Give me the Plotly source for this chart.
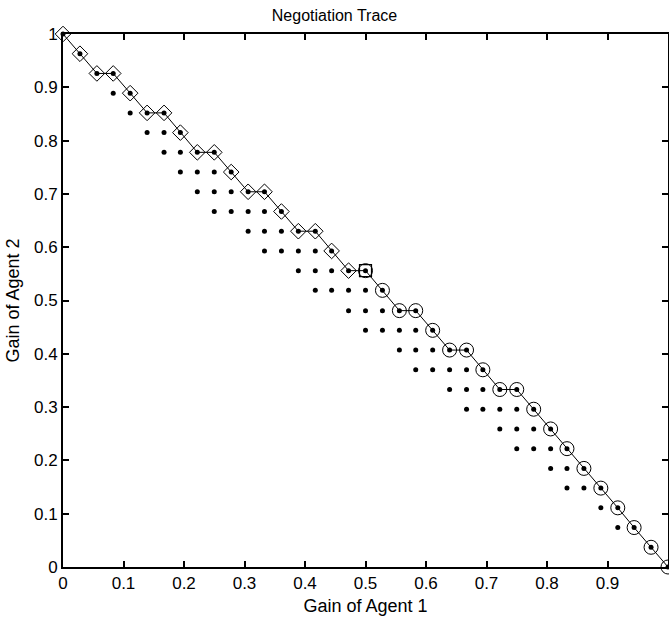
import plotly.graph_objects as go

# Agent 1 offers (diamonds)
agent1_x = [0, 0.028, 0.056, 0.083, 0.111, 0.139, 0.167, 0.194, 0.222, 0.25,
            0.278, 0.306, 0.333, 0.361, 0.389, 0.417, 0.444, 0.472]
agent1_y = [1, 0.963, 0.926, 0.926, 0.889, 0.852, 0.852, 0.815, 0.778, 0.778,
            0.741, 0.704, 0.704, 0.667, 0.630, 0.630, 0.593, 0.556]

# Agreement (square)
agree_x = [0.5]
agree_y = [0.556]

# Agent 2 offers (circles)
agent2_x = [0.528, 0.556, 0.583, 0.611, 0.639, 0.667, 0.694, 0.722, 0.75,
            0.778, 0.806, 0.833, 0.861, 0.889, 0.917, 0.944, 0.972, 1]
agent2_y = [0.519, 0.481, 0.481, 0.444, 0.407, 0.407, 0.370, 0.333, 0.333,
            0.296, 0.259, 0.222, 0.185, 0.148, 0.111, 0.074, 0.037, 0]

# Other feasible outcomes (small dots)
dots_x = [0.083,
          0.111,
          0.139, 0.167,
          0.167, 0.194,
          0.194, 0.222, 0.25,
          0.222, 0.25, 0.278,
          0.25, 0.278, 0.306, 0.333,
          0.306, 0.333, 0.361,
          0.333, 0.361, 0.389, 0.417,
          0.389, 0.417, 0.444,
          0.417, 0.444, 0.472, 0.5,
          0.472, 0.5, 0.528,
          0.5, 0.528, 0.556, 0.583,
          0.556, 0.583, 0.611,
          0.583, 0.611, 0.639, 0.667,
          0.639, 0.667, 0.694,
          0.667, 0.694, 0.722, 0.75,
          0.722, 0.75, 0.778,
          0.75, 0.778, 0.806,
          0.806, 0.833,
          0.833, 0.861,
          0.889,
          0.917]
dots_y = [0.889,
          0.852,
          0.815, 0.815,
          0.778, 0.778,
          0.741, 0.741, 0.741,
          0.704, 0.704, 0.704,
          0.667, 0.667, 0.667, 0.667,
          0.630, 0.630, 0.630,
          0.593, 0.593, 0.593, 0.593,
          0.556, 0.556, 0.556,
          0.519, 0.519, 0.519, 0.519,
          0.481, 0.481, 0.481,
          0.444, 0.444, 0.444, 0.444,
          0.407, 0.407, 0.407,
          0.370, 0.370, 0.370, 0.370,
          0.333, 0.333, 0.333,
          0.296, 0.296, 0.296, 0.296,
          0.259, 0.259, 0.259,
          0.222, 0.222, 0.222,
          0.185, 0.185,
          0.148, 0.148,
          0.111,
          0.074]

trace_x = agent1_x + agree_x + agent2_x
trace_y = agent1_y + agree_y + agent2_y

FONT = "Liberation Sans, Arial, Helvetica, sans-serif"

fig = go.Figure()

fig.add_trace(go.Scatter(
    x=dots_x, y=dots_y, mode="markers",
    marker=dict(symbol="circle", size=5, color="black", line=dict(width=0)),
    cliponaxis=False, showlegend=False, hoverinfo="x+y"))

fig.add_trace(go.Scatter(
    x=trace_x, y=trace_y, mode="lines+markers",
    line=dict(color="black", width=1),
    marker=dict(symbol="circle", size=5, color="black", line=dict(width=0)),
    cliponaxis=False, showlegend=False))

fig.add_trace(go.Scatter(
    x=agent1_x, y=agent1_y, mode="markers",
    marker=dict(symbol="diamond-open", size=12, color="black", line=dict(width=1, color="black")),
    cliponaxis=False, showlegend=False))

fig.add_trace(go.Scatter(
    x=agent2_x + agree_x, y=agent2_y + agree_y, mode="markers",
    marker=dict(symbol="circle-open", size=14, color="black", line=dict(width=1, color="black")),
    cliponaxis=False, showlegend=False))

fig.add_trace(go.Scatter(
    x=agree_x, y=agree_y, mode="markers",
    marker=dict(symbol="square-open", size=12, color="black", line=dict(width=1.2, color="black")),
    cliponaxis=False, showlegend=False))

axis_common = dict(
    range=[0, 1], dtick=0.1, tick0=0,
    showline=True, linecolor="black", linewidth=2,
    mirror="ticks", ticks="inside", ticklen=6, tickwidth=1.5, tickcolor="black",
    showgrid=False, zeroline=False, automargin=False,
    tickfont=dict(family=FONT, size=17, color="black"),
)

fig.update_layout(
    width=669, height=630,
    margin=dict(l=63, r=1, t=34, b=63),
    paper_bgcolor="white", plot_bgcolor="white",
    title=dict(text="Negotiation Trace", x=0.5, xref="container", xanchor="center",
               y=1 - 15 / 630, yref="container", yanchor="middle",
               font=dict(family=FONT, size=16, color="black")),
    xaxis=dict(**axis_common,
               title=dict(text="Gain of Agent 1", standoff=7,
                          font=dict(family=FONT, size=18, color="black"))),
    yaxis=dict(**axis_common,
               title=dict(text="Gain of Agent 2", standoff=10,
                          font=dict(family=FONT, size=18, color="black"))),
)

# remove the default 8px page margin so the figure fills the window exactly
fig.write_html("out.html", config={"displayModeBar": False},
               post_script="document.body.style.margin='0';document.body.style.overflow='hidden';")
